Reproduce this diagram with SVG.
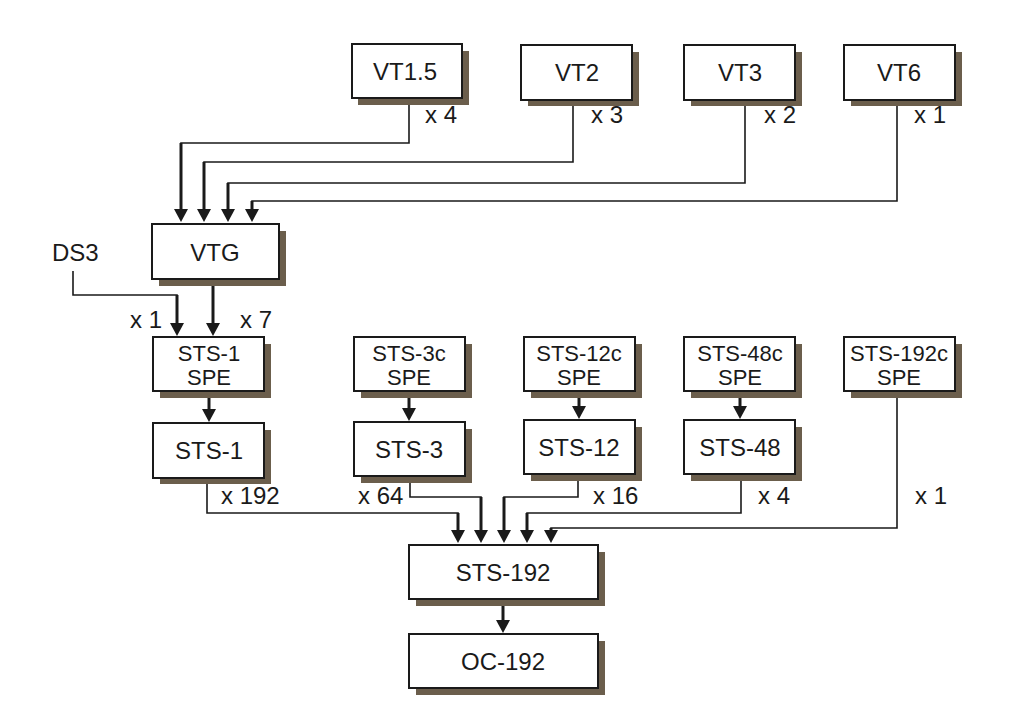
<svg xmlns="http://www.w3.org/2000/svg" width="1036" height="726" viewBox="0 0 1036 726">
<defs>
<marker id="ah" markerUnits="userSpaceOnUse" markerWidth="14" markerHeight="14" refX="1" refY="7" orient="auto">
<path d="M0,0 L13,7 L0,14 z" fill="#1a1a1a"/>
</marker>
<style>
.box{fill:#fff;stroke:#1a1a1a;stroke-width:2}
.sh{fill:#6b5e4c}
text{font-family:"Liberation Sans",Arial,sans-serif;font-size:24px;fill:#1a1a1a}
.c{text-anchor:middle}
.s{font-size:22px}
.thin{fill:none;stroke:#1a1a1a;stroke-width:1.6}
.thick{fill:none;stroke:#1a1a1a;stroke-width:3;marker-end:url(#ah)}
</style>
</defs>
<rect width="1036" height="726" fill="#fff"/>

<g id="connectors">
<polyline class="thin" points="409,98 409,143 181,143 181,200"/>
<path class="thick" d="M181,143 V210"/>
<polyline class="thin" points="573,100 573,162 204,162 204,200"/>
<path class="thick" d="M204,162 V210"/>
<polyline class="thin" points="745,100 745,183 228,183 228,200"/>
<path class="thick" d="M228,183 V210"/>
<polyline class="thin" points="897,100 897,201 252,201 252,205"/>
<path class="thick" d="M252,201 V210"/>
<polyline class="thin" points="73,271 73,295 177,295 177,310"/>
<path class="thick" d="M177,295 V324"/>
<path class="thick" d="M213,279 V324"/>
<path class="thick" d="M209,391 V410"/>
<path class="thick" d="M409,391 V409"/>
<path class="thick" d="M579,391 V407"/>
<path class="thick" d="M740,391 V407"/>
<polyline class="thin" points="207,478 207,513 458,513 458,520"/>
<path class="thick" d="M458,513 V531"/>
<polyline class="thin" points="410,476 410,497 481,497 481,505"/>
<path class="thick" d="M481,497 V531"/>
<polyline class="thin" points="578,474 578,497 504,497 504,505"/>
<path class="thick" d="M504,497 V531"/>
<polyline class="thin" points="741,474 741,513 527,513 527,520"/>
<path class="thick" d="M527,513 V531"/>
<polyline class="thin" points="897,391 897,528 551,528 551,531"/>
<path class="thick" d="M551,528 V531"/>
<path class="thick" d="M503,599 V621"/>
</g>

<g id="labels">
<text x="425" y="123">x 4</text>
<text x="591" y="123">x 3</text>
<text x="764" y="123">x 2</text>
<text x="914" y="123">x 1</text>
<text x="52" y="261">DS3</text>
<text x="130" y="328">x 1</text>
<text x="240" y="328">x 7</text>
<text x="221" y="504">x 192</text>
<text x="358" y="504">x 64</text>
<text x="593" y="504">x 16</text>
<text x="758" y="504">x 4</text>
<text x="915" y="504">x 1</text>
</g>

<g id="VT1.5"><rect class="sh" x="358" y="51" width="111" height="54"/><rect class="box" x="352" y="44" width="110" height="54"/><text class="c" x="405" y="80">VT1.5</text></g>
<g id="VT2"><rect class="sh" x="528" y="52" width="111" height="54"/><rect class="box" x="521" y="45" width="111" height="55"/><text class="c" x="577" y="81">VT2</text></g>
<g id="VT3"><rect class="sh" x="691" y="52" width="111" height="54"/><rect class="box" x="684" y="45" width="111" height="55"/><text class="c" x="740" y="81">VT3</text></g>
<g id="VT6"><rect class="sh" x="851" y="52" width="111" height="54"/><rect class="box" x="844" y="45" width="111" height="55"/><text class="c" x="899" y="81">VT6</text></g>
<g id="VTG"><rect class="sh" x="159" y="231" width="127" height="55"/><rect class="box" x="152" y="224" width="127" height="55"/><text class="c" x="215" y="261">VTG</text></g>
<g id="STS-1-SPE"><rect class="sh" x="160" y="344" width="111" height="54"/><rect class="box" x="153" y="337" width="111" height="54"/><text class="c s" x="209" y="361">STS-1</text><text class="c s" x="209" y="385">SPE</text></g>
<g id="STS-1"><rect class="sh" x="160" y="430" width="111" height="54"/><rect class="box" x="153" y="423" width="111" height="55"/><text class="c" x="209" y="459">STS-1</text></g>
<g id="STS-3c-SPE"><rect class="sh" x="361" y="344" width="111" height="54"/><rect class="box" x="354" y="337" width="111" height="54"/><text class="c s" x="409" y="361">STS-3c</text><text class="c s" x="409" y="385">SPE</text></g>
<g id="STS-3"><rect class="sh" x="361" y="429" width="111" height="54"/><rect class="box" x="354" y="422" width="111" height="54"/><text class="c" x="409" y="458">STS-3</text></g>
<g id="STS-12c-SPE"><rect class="sh" x="531" y="344" width="111" height="54"/><rect class="box" x="524" y="337" width="111" height="54"/><text class="c s" x="579" y="361">STS-12c</text><text class="c s" x="579" y="385">SPE</text></g>
<g id="STS-12"><rect class="sh" x="531" y="427" width="111" height="54"/><rect class="box" x="524" y="420" width="111" height="54"/><text class="c" x="579" y="456">STS-12</text></g>
<g id="STS-48c-SPE"><rect class="sh" x="691" y="344" width="111" height="54"/><rect class="box" x="684" y="337" width="111" height="54"/><text class="c s" x="740" y="361">STS-48c</text><text class="c s" x="740" y="385">SPE</text></g>
<g id="STS-48"><rect class="sh" x="691" y="427" width="111" height="54"/><rect class="box" x="684" y="420" width="111" height="54"/><text class="c" x="740" y="456">STS-48</text></g>
<g id="STS-192c-SPE"><rect class="sh" x="851" y="344" width="111" height="54"/><rect class="box" x="844" y="337" width="111" height="54"/><text class="c s" x="899" y="361">STS-192c</text><text class="c s" x="899" y="385">SPE</text></g>
<g id="STS-192"><rect class="sh" x="416" y="552" width="189" height="54"/><rect class="box" x="409" y="545" width="189" height="54"/><text class="c" x="503" y="581">STS-192</text></g>
<g id="OC-192"><rect class="sh" x="416" y="641" width="189" height="54"/><rect class="box" x="409" y="634" width="189" height="54"/><text class="c" x="503" y="670">OC-192</text></g>
</svg>
